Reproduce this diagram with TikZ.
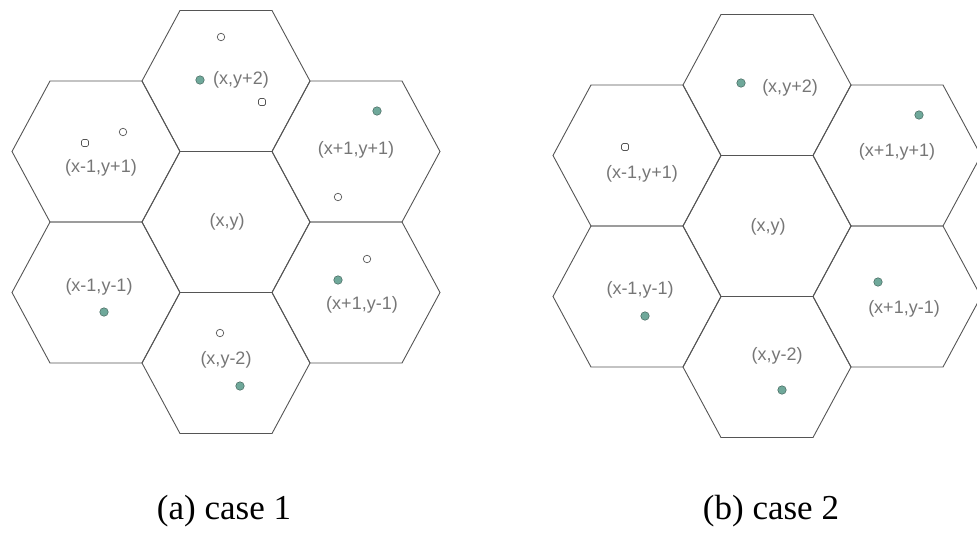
\documentclass[tikz,border=0pt]{standalone}
\usepackage{fontspec}
\setmainfont{Liberation Serif}
\setsansfont{Liberation Sans}
\usepackage{xcolor}
\usepackage{tikz}
\definecolor{edge}{HTML}{555555}
\definecolor{lbl}{HTML}{767676}
\definecolor{seed}{HTML}{6FA89A}
\newcommand\cellfont{\sffamily\fontsize{18}{18}\selectfont}
\newcommand\capfont{\rmfamily\fontsize{35}{38}\selectfont}

\begin{document}
\begin{tikzpicture}[x=1pt,y=-1pt,
    hexline/.style={draw=edge, line width=0.9pt, line join=miter},
    celltxt/.style={text=lbl, font=\cellfont, inner sep=0pt},
    fulldot/.style={circle, fill=seed, draw=seed!60!black, line width=0.5pt,
                    minimum size=8.5pt, inner sep=0pt},
    emptydot/.style={circle, draw=edge, line width=0.7pt, fill=white,
                     minimum size=7.5pt, inner sep=0pt},
    emptysq/.style={rectangle, rounded corners=1.5pt, draw=edge, line width=0.7pt,
                    fill=white, minimum size=7pt, inner sep=0pt},
    caption/.style={font=\capfont, inner sep=0pt, anchor=base}]
  \useasboundingbox (0,0) rectangle (977,541);

  % honeycomb cells, (a) left and (b) right
  \foreach \cx/\cy in {96/151.5, 226/81, 356/151.5, 96/292.5, 226/222, 356/292.5, 226/363,
                       637/155.5, 767/85, 897/155.5, 637/296.5, 767/226, 897/296.5, 767/367}
    \draw[hexline] (\cx-84,\cy) -- ++(38,-70.5) -- ++(92,0) -- ++(38,70.5)
                   -- ++(-38,70.5) -- ++(-92,0) -- cycle;

  % case 1
  \node[celltxt] (a-top) at (241,80)  {(x,y+2)};
  \node[celltxt] (a-ul)  at (101,168) {(x-1,y+1)};
  \node[celltxt] (a-ur)  at (356,150) {(x+1,y+1)};
  \node[celltxt] (a-mid) at (227,222) {(x,y)};
  \node[celltxt] (a-ll)  at (99,287)  {(x-1,y-1)};
  \node[celltxt] (a-lr)  at (362,305) {(x+1,y-1)};
  \node[celltxt] (a-bot) at (226,360) {(x,y-2)};

  \node[fulldot] (a-d1) at (200,80)  {};
  \node[fulldot] (a-d2) at (377,111) {};
  \node[fulldot] (a-d3) at (104,312) {};
  \node[fulldot] (a-d4) at (338,280) {};
  \node[fulldot] (a-d5) at (240,386) {};
  \node[emptydot] (a-o1) at (221,37)  {};
  \node[emptydot] (a-o2) at (123,132) {};
  \node[emptydot] (a-o3) at (338,197) {};
  \node[emptydot] (a-o4) at (367,259) {};
  \node[emptydot] (a-o5) at (220,333) {};
  \node[emptysq]  (a-s1) at (262,102) {};
  \node[emptysq]  (a-s2) at (85,143)  {};

  % case 2
  \node[celltxt] (b-top) at (790,88)  {(x,y+2)};
  \node[celltxt] (b-ul)  at (642,174) {(x-1,y+1)};
  \node[celltxt] (b-ur)  at (897,152) {(x+1,y+1)};
  \node[celltxt] (b-mid) at (768,227) {(x,y)};
  \node[celltxt] (b-ll)  at (640,290) {(x-1,y-1)};
  \node[celltxt] (b-lr)  at (904,309) {(x+1,y-1)};
  \node[celltxt] (b-bot) at (777,356) {(x,y-2)};

  \node[fulldot] (b-d1) at (741,83)  {};
  \node[fulldot] (b-d2) at (919,115) {};
  \node[fulldot] (b-d3) at (645,316) {};
  \node[fulldot] (b-d4) at (878,282) {};
  \node[fulldot] (b-d5) at (782,390) {};
  \node[emptysq] (b-s1) at (625,147) {};

  \node[caption] (capA) at (224,519) {(a) case 1};
  \node[caption] (capB) at (771,519) {(b) case 2};
\end{tikzpicture}
\end{document}
